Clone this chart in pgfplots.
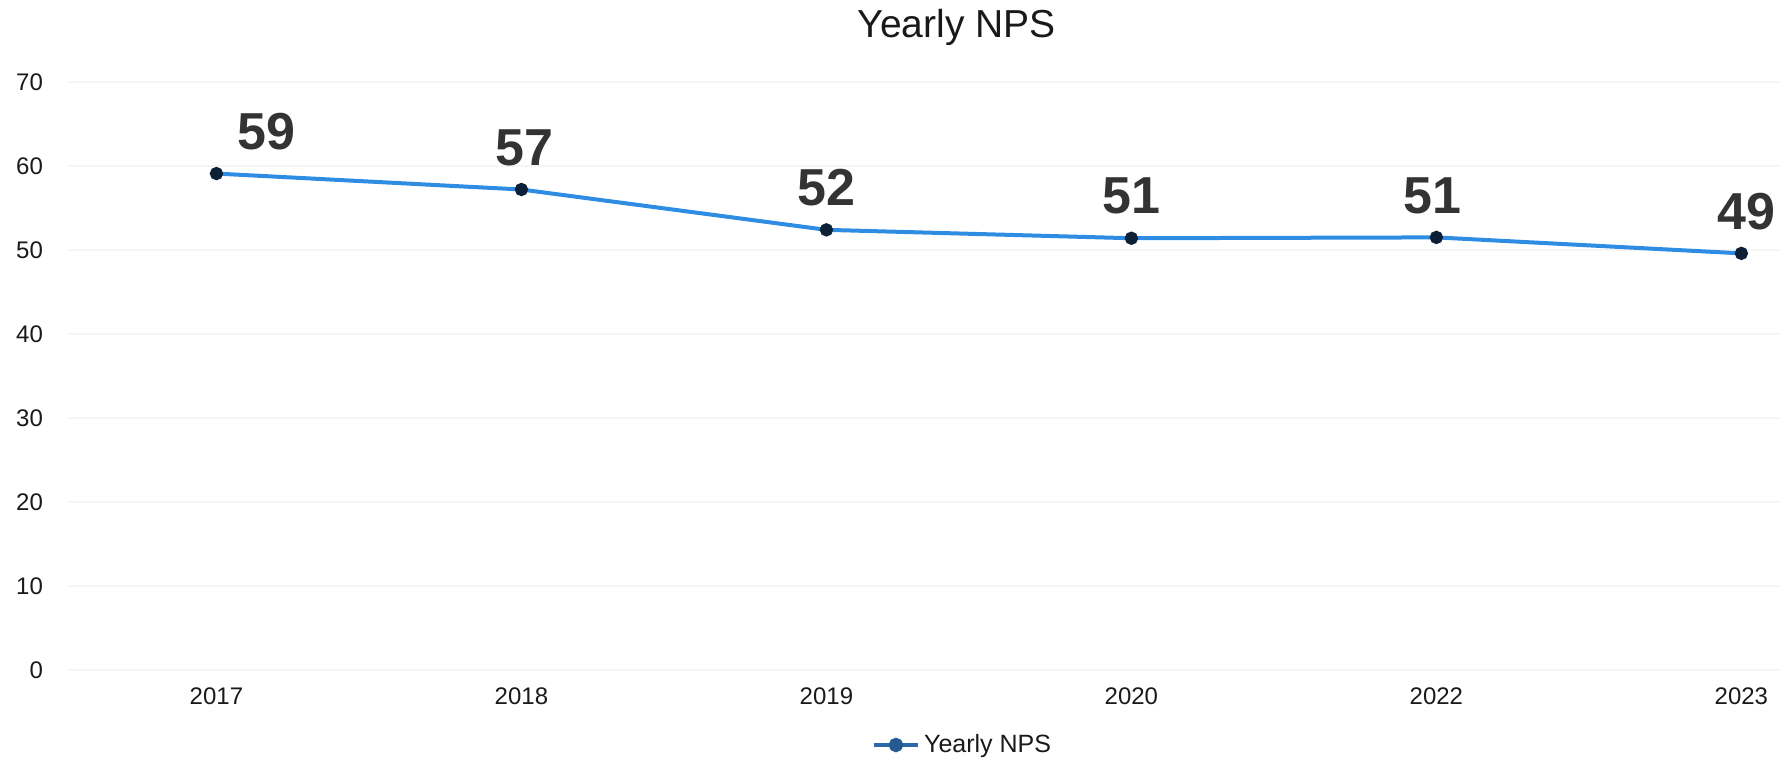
\documentclass[border=0pt]{standalone}
\usepackage{fontspec}
\setmainfont{Liberation Sans}
\usepackage{pgfplots}
\usepackage{pgfplotstable}
\pgfplotsset{compat=1.18}
\definecolor{npsline}{RGB}{46,140,226}
\definecolor{npsmark}{RGB}{12,32,56}
\definecolor{legline}{RGB}{42,106,170}
\definecolor{lblcol}{RGB}{51,51,51}
\definecolor{tickcol}{RGB}{26,26,26}
\pgfplotstableread{
x y label dx
0 59.1 59 25
1 57.2 57 1.5
2 52.4 52 0
3 51.4 51 0
4 51.5 51 -2
5 49.6 49 2.5
}\npsdata
\begin{document}
\begin{tikzpicture}
\useasboundingbox (-33.5pt,-46pt) rectangle (862.5pt,335pt);
\begin{axis}[
  at={(0,0)}, anchor=south west,
  scale only axis,
  width=857pt, height=294pt,
  xmin=-0.49, xmax=5.13,
  ymin=0, ymax=70,
  ytick={0,10,...,70},
  xtick={0,1,2,3,4,5},
  xticklabels={2017,2018,2019,2020,2022,2023},
  axis line style={draw=none},
  major tick length=0pt,
  ymajorgrids,
  grid style={color=black!4, line width=1pt},
  /pgf/number format/assume math mode=true,
  tick label style={font=\fontsize{12}{14}\selectfont, text=tickcol},
  yticklabel style={anchor=east, xshift=-8.5pt},
  xticklabel style={anchor=north, yshift=-5.25pt},
  title={Yearly NPS},
  title style={at={(axis description cs:0.519,1)}, anchor=base, yshift=16.5pt,
    font=\fontsize{19.5}{22}\selectfont, text=black!90},
  legend style={at={(axis description cs:0.523,0)}, anchor=center, yshift=-37.5pt,
    draw=none, fill=none, font=\fontsize{12.5}{14}\selectfont, text=tickcol,
    /tikz/every even column/.append style={column sep=2pt}},
  legend image code/.code={
    \draw[legline, line width=2.2pt] (0pt,0pt) -- (22pt,0pt);
    \fill[legline!85!black] (11pt,0pt) circle (2.6pt);
  },
  clip=false,
]
\addplot[
  color=npsline, line width=2pt,
  mark=*, mark size=2.3pt, mark options={fill=npsmark, draw=npsmark},
  point meta=explicit symbolic,
  nodes near coords,
  visualization depends on={\thisrow{dx} \as \dx},
  nodes near coords style={anchor=center, yshift=21pt, xshift=\dx pt,
    font=\bfseries\fontsize{26}{28}\selectfont, text=lblcol},
] table[x=x, y=y, meta=label] {\npsdata};
\addlegendentry{Yearly NPS}
\end{axis}
\end{tikzpicture}
\end{document}
